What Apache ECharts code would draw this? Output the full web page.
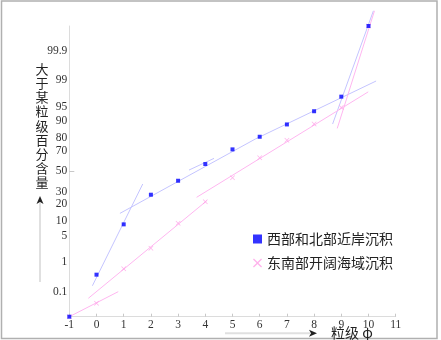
<!DOCTYPE html>
<html>
<head>
<meta charset="utf-8">
<script src="https://cdn.jsdelivr.net/npm/echarts@6/dist/echarts.min.js"></script>
<style>
  html, body { margin: 0; padding: 0; background: #fff; }
  #chart { width: 441px; height: 340px; }
</style>
</head>
<body>
<div id="chart"></div>
<script>
// grain size (phi) and cumulative percent
var phi = [-1, 0, 1, 2, 3, 4, 5, 6, 7, 8, 9, 10];
var westNorthPct = [0.01, 0.41, 8.75, 27.5, 40.5, 57.4, 71.3, 81.2, 88.5, 93.8, 97.2, 99.99];
var southEastPct = [0.01, 0.0365, 0.64, 2.44, 9.2, 21.8, 43.5, 63.6, 78.6, 88.7, 94.9, 99.99];

// hand drawn fit segments, [phi, percent]
var westNorthFits = [
  [[-0.15, 0.171], [1.70, 37.3]],
  [[0.86, 14.1], [5.84, 79.6], [10.28, 98.96]],
  [[3.40, 51.3], [4.32, 63.0]],
  [[8.68, 88.7], [10.18, 99.998]]
];
var southEastFits = [
  [[-1, 0.01], [0.80, 0.104]],
  [[-0.30, 0.058], [4.05, 22.5]],
  [[3.68, 25.3], [9.99, 97.9]],
  [[8.85, 86.4], [10.22, 99.998]]
];

var yTickPct = [0.1, 1, 5, 10, 20, 30, 50, 70, 80, 90, 95, 99, 99.9];
var yTickLabels = ['0.1', '1', '5', '10', '20', '30', '50', '70', '80', '90', '95', '99', '99.9'];
var yRangePct = [0.01, 99.99];

var names = ['西部和北部近岸沉积', '东南部开阔海域沉积'];

// inverse normal cdf (Acklam)
function probit(p) {
  var a = [-3.969683028665376e+01, 2.209460984245205e+02, -2.759285104469687e+02, 1.383577518672690e+02, -3.066479806614716e+01, 2.506628277459239e+00];
  var b = [-5.447609879822406e+01, 1.615858368580409e+02, -1.556989798598866e+02, 6.680131188771972e+01, -1.328068155288572e+01];
  var c = [-7.784894002430293e-03, -3.223964580411365e-01, -2.400758277161838e+00, -2.549732539343734e+00, 4.374664141464968e+00, 2.938163982698783e+00];
  var d = [7.784695709041462e-03, 3.224671290700398e-01, 2.445134137142996e+00, 3.754408661907416e+00];
  var pl = 0.02425, q, r;
  if (p < pl) {
    q = Math.sqrt(-2 * Math.log(p));
    return (((((c[0]*q+c[1])*q+c[2])*q+c[3])*q+c[4])*q+c[5]) / ((((d[0]*q+d[1])*q+d[2])*q+d[3])*q+1);
  }
  if (p > 1 - pl) {
    q = Math.sqrt(-2 * Math.log(1 - p));
    return -(((((c[0]*q+c[1])*q+c[2])*q+c[3])*q+c[4])*q+c[5]) / ((((d[0]*q+d[1])*q+d[2])*q+d[3])*q+1);
  }
  q = p - 0.5; r = q * q;
  return (((((a[0]*r+a[1])*r+a[2])*r+a[3])*r+a[4])*r+a[5])*q / (((((b[0]*r+b[1])*r+b[2])*r+b[3])*r+b[4])*r+1);
}
function z(pct) { return probit(pct / 100); }

var yTickZ = yTickPct.map(z);

function fitSeries(segs, color) {
  return segs.map(function (seg) {
    return {
      type: 'line',
      data: seg.map(function (p) { return [p[0], z(p[1])]; }),
      symbol: 'none',
      clip: false,
      silent: true,
      lineStyle: { color: color, width: 1 },
      z: 1
    };
  });
}

var crossPath = 'path://M0,1L1,0L5,4L9,0L10,1L6,5L10,9L9,10L5,6L1,10L0,9L4,5Z';

var chart = echarts.init(document.getElementById('chart'));
var numFont = '"Liberation Serif", "DejaVu Serif", serif';
var cjkFont = '"Noto Sans CJK SC", sans-serif';

var option = {
  animation: false,
  grid: { left: 69.3, right: 45.3, top: 26, bottom: 23.3 },
  legend: {
    orient: 'vertical',
    left: 248,
    top: 226,
    itemWidth: 9,
    itemHeight: 9,
    itemGap: 8,
    data: [
      { name: names[0], icon: 'rect' },
      { name: names[1], icon: crossPath }
    ],
    textStyle: { fontFamily: cjkFont, fontSize: 14, color: '#222', lineHeight: 16 }
  },
  xAxis: {
    type: 'value',
    min: -1,
    max: 11,
    interval: 1,
    splitLine: { show: false },
    axisLine: { onZero: false, lineStyle: { color: '#dcdcdc' } },
    axisTick: { inside: true, length: 3, lineStyle: { color: '#c8c8c8' } },
    axisLabel: { fontFamily: numFont, fontSize: 11.5, color: '#333', margin: 2 }
  },
  yAxis: {
    type: 'value',
    min: z(yRangePct[0]),
    max: z(yRangePct[1]),
    splitLine: { show: false },
    axisLine: { show: true, onZero: false, lineStyle: { color: '#dcdcdc' } },
    axisTick: { show: true, inside: true, length: 5, customValues: [z(50)], lineStyle: { color: '#c8c8c8' } },
    axisLabel: {
      customValues: yTickZ,
      fontFamily: numFont, fontSize: 11.5, color: '#333', margin: 2,
      formatter: function (v) {
        var best = 0;
        for (var i = 1; i < yTickZ.length; i++) {
          if (Math.abs(yTickZ[i] - v) < Math.abs(yTickZ[best] - v)) best = i;
        }
        return yTickLabels[best];
      }
    }
  },
  series: fitSeries(westNorthFits, '#c4c4ff')
    .concat(fitSeries(southEastFits, '#ffb6f0'))
    .concat([
      {
        name: names[1],
        type: 'scatter',
        symbol: crossPath,
        symbolSize: 5,
        itemStyle: { color: '#ff9ee6' },
        data: phi.map(function (x, i) { return [x, z(southEastPct[i])]; }),
        z: 2
      },
      {
        name: names[0],
        type: 'scatter',
        symbol: 'rect',
        symbolSize: 4,
        itemStyle: { color: '#0000ff' },
        data: phi.map(function (x, i) { return [x, z(westNorthPct[i])]; }),
        z: 3
      }
    ]),
  graphic: [
    { type: 'rect', shape: { x: 1.5, y: 1, width: 435.5, height: 337.5 }, style: { fill: 'none', stroke: '#b0b0b0', lineWidth: 1.5 }, silent: true },
    { type: 'text', x: 42, y: 62, style: { text: '大\n于\n某\n粒\n级\n百\n分\n含\n量', font: '13px ' + cjkFont, fill: '#222', align: 'center', lineHeight: 14.15 } },
    { type: 'line', shape: { x1: 40, y1: 282, x2: 40, y2: 203 }, style: { stroke: '#e0e0e0', lineWidth: 2 } },
    { type: 'polygon', shape: { points: [[40, 196], [36.5, 204], [40, 202], [43.5, 204]] }, style: { fill: '#222' } },
    { type: 'line', shape: { x1: 225, y1: 333.3, x2: 310, y2: 333.3 }, style: { stroke: '#e0e0e0', lineWidth: 2 } },
    { type: 'polygon', shape: { points: [[317, 333.3], [309, 329.8], [311, 333.3], [309, 336.8]] }, style: { fill: '#222' } },
    { type: 'text', x: 331, y: 333, style: { text: '粒级 φ', font: '14px ' + cjkFont, fill: '#222', verticalAlign: 'middle' } }
  ]
};
chart.setOption(option);
</script>
</body>
</html>
